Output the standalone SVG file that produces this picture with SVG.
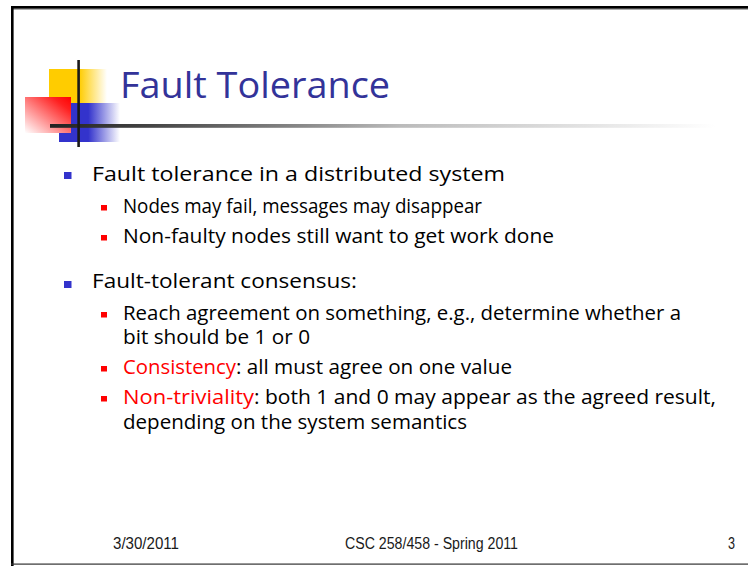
<svg xmlns="http://www.w3.org/2000/svg" width="748" height="566" viewBox="0 0 748 566">
  <style>
    .body { font-family: "Open Sans", "DejaVu Sans", sans-serif; font-size: 20.5px; fill: #000; }
    .red { fill: #FF0000; }
    .title { font-family: "Open Sans", "DejaVu Sans", sans-serif; font-size: 37px; fill: #333399; }
    .foot { font-family: "Liberation Sans", Arial, sans-serif; font-size: 16px; fill: #1a1a1a; }
    .b1 { fill: #3333CC; }
    .b2 { fill: #FF0000; }
  </style>
  <defs>
    <linearGradient id="gY" x1="0" y1="0" x2="1" y2="0">
      <stop offset="0" stop-color="#FFCC00"/>
      <stop offset="0.52" stop-color="#FFCC00"/>
      <stop offset="1" stop-color="#FFFFFF"/>
    </linearGradient>
    <linearGradient id="gB" x1="0" y1="0" x2="1" y2="0">
      <stop offset="0" stop-color="#3333CC"/>
      <stop offset="0.48" stop-color="#3333CC"/>
      <stop offset="1" stop-color="#FFFFFF"/>
    </linearGradient>
    <linearGradient id="gR" x1="1" y1="0" x2="0" y2="1">
      <stop offset="0" stop-color="#FF0000"/>
      <stop offset="0.2" stop-color="#FF2020"/>
      <stop offset="1" stop-color="#FFFFFF"/>
    </linearGradient>
    <linearGradient id="gL" gradientUnits="userSpaceOnUse" x1="50" y1="0" x2="715" y2="0">
      <stop offset="0" stop-color="#222222"/>
      <stop offset="0.15" stop-color="#444444"/>
      <stop offset="0.376" stop-color="#888888"/>
      <stop offset="0.526" stop-color="#BBBBBB"/>
      <stop offset="1" stop-color="#FFFFFF"/>
    </linearGradient>
  </defs>
  <rect width="748" height="566" fill="#FFFFFF"/>
  <g id="frame">
    <rect x="11" y="6" width="737" height="2.8" fill="#000"/>
    <rect x="11" y="8.8" width="737" height="1" fill="#999"/>
    <rect x="11" y="6" width="2.6" height="560" fill="#000"/>
    <rect x="11" y="563.5" width="737" height="1.2" fill="#333"/>
  </g>
  <g id="logo">
    <rect x="49" y="69" width="58" height="35" fill="url(#gY)"/>
    <rect x="59" y="103" width="61" height="39" fill="url(#gB)"/>
    <rect x="25" y="97" width="46" height="36" fill="url(#gR)"/>
    <rect x="50" y="124" width="698" height="3.8" fill="url(#gL)"/>
    <rect x="77.3" y="60" width="2.6" height="87" fill="#1a1a1a"/>
  </g>
  <g id="title">
    <text class="title" x="120" y="98" textLength="270" lengthAdjust="spacingAndGlyphs">Fault Tolerance</text>
  </g>
  <g id="bullets">
    <rect class="b1" x="64" y="172" width="7.5" height="7"/>
    <text class="body" x="92" y="181" textLength="413" lengthAdjust="spacingAndGlyphs">Fault tolerance in a distributed system</text>
    <rect class="b2" x="101" y="205" width="6" height="5.5"/>
    <text class="body" x="123" y="213" textLength="359" lengthAdjust="spacingAndGlyphs">Nodes may fail, messages may disappear</text>
    <rect class="b2" x="101" y="235" width="6" height="5.5"/>
    <text class="body" x="123" y="243" textLength="431" lengthAdjust="spacingAndGlyphs">Non-faulty nodes still want to get work done</text>

    <rect class="b1" x="64" y="281" width="7.5" height="7"/>
    <text class="body" x="92" y="288" textLength="265" lengthAdjust="spacingAndGlyphs">Fault-tolerant consensus:</text>
    <rect class="b2" x="101" y="312" width="6" height="5.5"/>
    <text class="body" x="123" y="320" textLength="558" lengthAdjust="spacingAndGlyphs">Reach agreement on something, e.g., determine whether a</text>
    <text class="body" x="123" y="344" textLength="187" lengthAdjust="spacingAndGlyphs">bit should be 1 or 0</text>
    <rect class="b2" x="101" y="366" width="6" height="5.5"/>
    <text class="body red" x="123" y="374" textLength="113" lengthAdjust="spacingAndGlyphs">Consistency</text>
    <text class="body" x="236" y="374" textLength="276" lengthAdjust="spacingAndGlyphs">: all must agree on one value</text>
    <rect class="b2" x="101" y="396" width="6" height="5.5"/>
    <text class="body red" x="123" y="404" textLength="131" lengthAdjust="spacingAndGlyphs">Non-triviality</text>
    <text class="body" x="254" y="404" textLength="462" lengthAdjust="spacingAndGlyphs">: both 1 and 0 may appear as the agreed result,</text>
    <text class="body" x="123" y="429" textLength="344" lengthAdjust="spacingAndGlyphs">depending on the system semantics</text>
  </g>
  <g id="footer">
    <text class="foot" x="113" y="549" textLength="66" lengthAdjust="spacingAndGlyphs">3/30/2011</text>
    <text class="foot" x="345" y="549" textLength="173" lengthAdjust="spacingAndGlyphs">CSC 258/458 - Spring 2011</text>
    <text class="foot" x="728" y="549" textLength="7" lengthAdjust="spacingAndGlyphs">3</text>
  </g>
</svg>
